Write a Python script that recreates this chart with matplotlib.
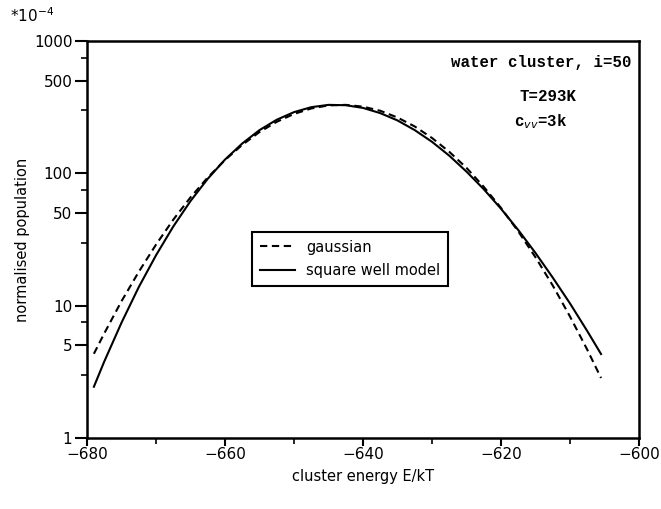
import numpy as np
import matplotlib
matplotlib.use("Agg")
import matplotlib.pyplot as plt
from matplotlib.ticker import FixedLocator, NullFormatter

# values (population in units of 1e-4)
energy = [-679, -677.5, -675, -672.5, -670, -667.5, -665, -662.5, -660, -657.5,
          -655, -652.5, -650, -647.5, -645, -642.5, -640, -637.5, -635, -632.5,
          -630, -627.5, -625, -622.5, -620, -617.5, -615, -612.5, -610, -607.5,
          -605.5]
gaussian = [4.33, 6.17, 10.8, 18.0, 28.9, 44.6, 65.8, 93.0, 126, 164,
            205, 245, 281, 309, 326, 329, 319, 297, 264, 226,
            185, 145.5, 110, 79.1, 54.8, 36.4, 23.2, 14.2, 8.28, 4.65,
            2.84]
square_well = [2.44, 3.78, 7.43, 13.8, 24.0, 39.6, 61.7, 90.9, 127, 168,
               212, 254, 290, 316, 329, 327, 312, 285, 251, 212,
               173, 136, 103, 75.9, 54, 37.3, 25.0, 16.3, 10.4, 6.43,
               4.31]

x_ticks = [-680, -660, -640, -620, -600]
x_minor = [-670, -650, -630, -610]
y_ticks = [1, 5, 10, 50, 100, 500, 1000]
y_minor = [3, 7.5, 30, 75, 300, 750]

fig = plt.figure(figsize=(6.61, 5.09), dpi=100)
ax = fig.add_axes([0.1316, 0.1395, 0.8351, 0.78])

ax.plot(energy, gaussian, color="black", lw=1.5, ls=(0, (3.5, 2.2)), label="gaussian")
ax.plot(energy, square_well, color="black", lw=1.5, label="square well model")

ax.set_yscale("log")
ax.set_xlim(-680, -600)
ax.set_ylim(1, 1000)

ax.xaxis.set_major_locator(FixedLocator(x_ticks))
ax.xaxis.set_minor_locator(FixedLocator(x_minor))
ax.yaxis.set_major_locator(FixedLocator(y_ticks))
ax.yaxis.set_minor_locator(FixedLocator(y_minor))
ax.yaxis.set_minor_formatter(NullFormatter())
ax.set_xticklabels(["\u2212680", "\u2212660", "\u2212640", "\u2212620", "\u2212600"])
ax.set_yticklabels([str(v) for v in y_ticks])

ax.tick_params(which="major", direction="out", length=8.5, width=1.5, labelsize=11, pad=2)
ax.tick_params(which="minor", direction="out", length=4, width=1.2)
ax.tick_params(axis="x", which="major", length=6, pad=0.5)
ax.tick_params(axis="x", which="minor", length=4)
for s in ax.spines.values():
    s.set_linewidth(1.8)

ax.set_xlabel("cluster energy E/kT", fontsize=10.5, labelpad=5)
ax.set_ylabel("normalised population", fontsize=10.5, labelpad=3)

fig.text(0.015, 0.987, "*10$^{-4}$", fontsize=11, va="top")

mono = dict(family="Liberation Mono", fontsize=11.3, fontweight="bold")
ax.text(0.987, 0.945, "water cluster, i=50", transform=ax.transAxes, ha="right", va="center", **mono)
ax.text(0.835, 0.859, "T=293K", transform=ax.transAxes, ha="center", va="center", **mono)
ax.text(0.822, 0.796, "c$_{vv}$=3k", transform=ax.transAxes, ha="center", va="center", **mono)

leg = ax.legend(loc="upper left", bbox_to_anchor=(0.299, 0.52), fontsize=10.5,
                frameon=True, fancybox=False, edgecolor="black", framealpha=1,
                handlelength=2.4, handletextpad=0.75, borderpad=0.55, labelspacing=0.6,
                borderaxespad=0)
leg.get_frame().set_linewidth(1.5)

fig.savefig("out.png", dpi=100)
